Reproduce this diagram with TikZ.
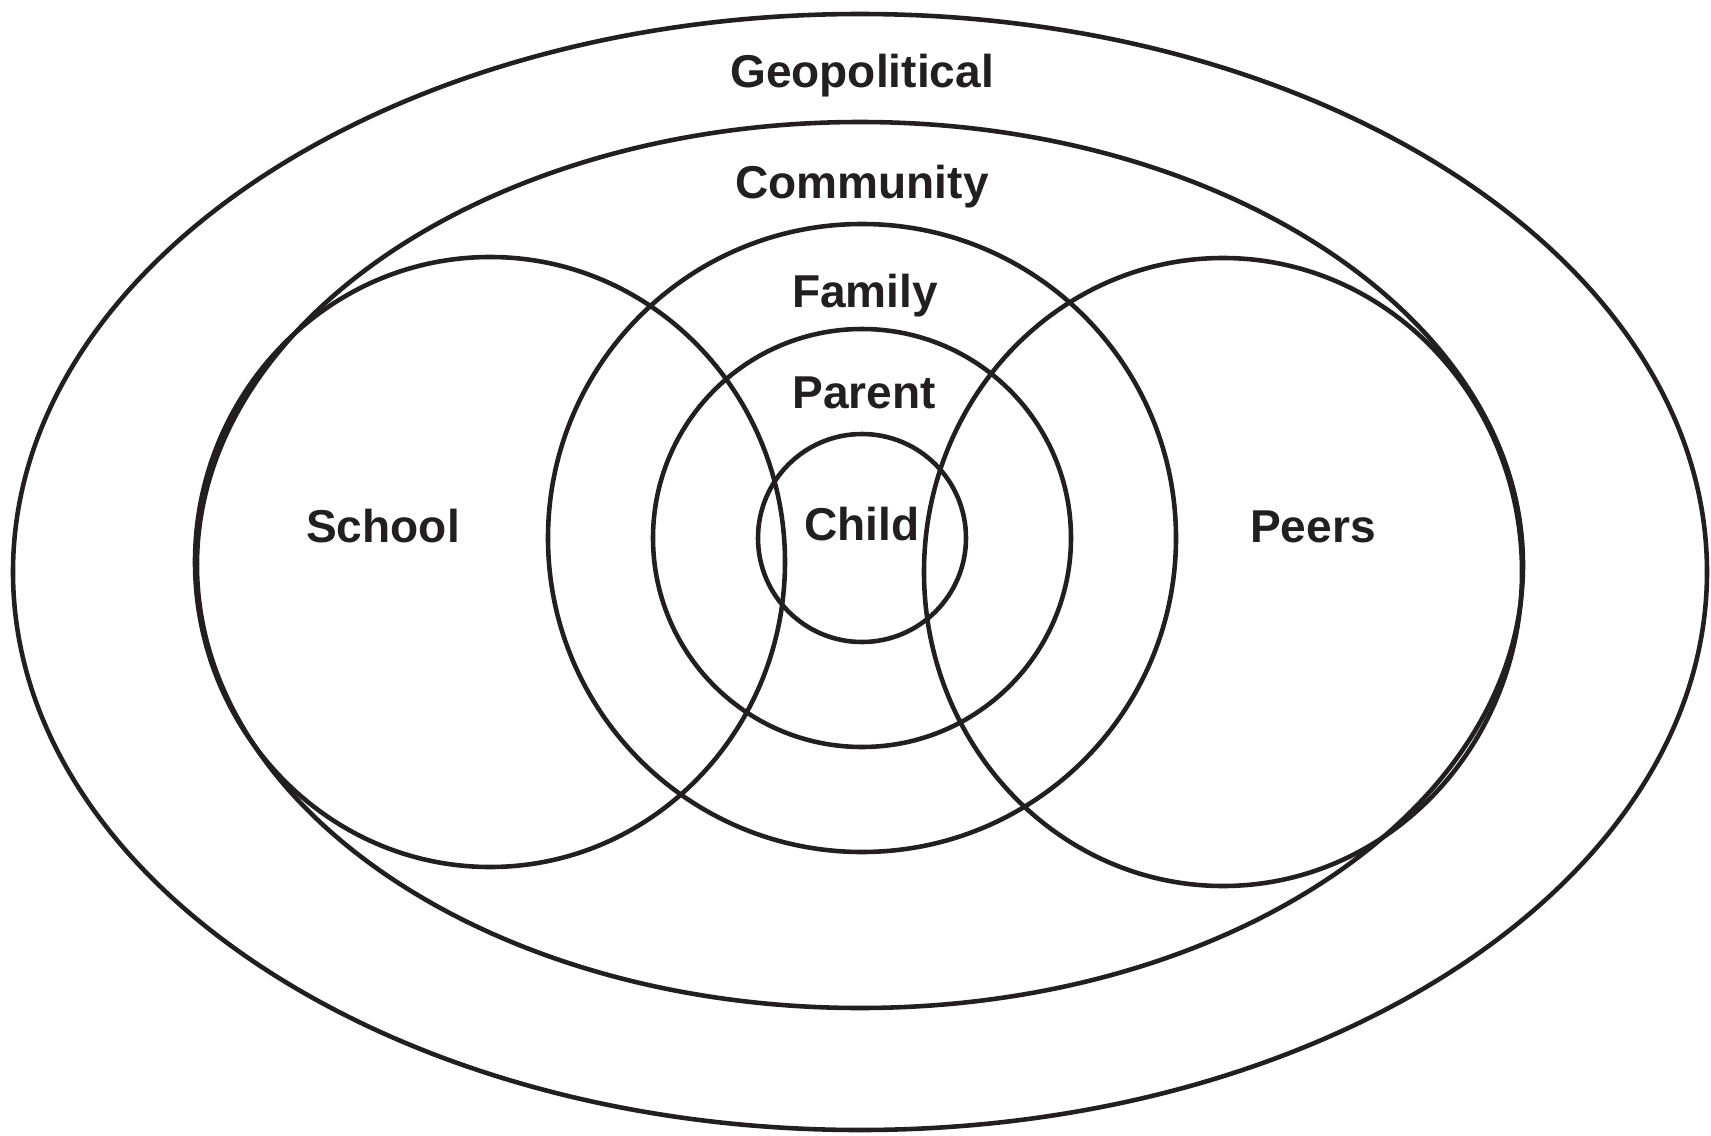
\documentclass[tikz,border=0pt]{standalone}
\usepackage{fontspec}
\setmainfont{Liberation Sans}
\definecolor{ink}{RGB}{35,31,32}
\begin{document}
\begin{tikzpicture}[x=0.01cm,y=-0.01cm,
  ring/.style={draw=ink, line width=1.3pt},
  lab/.style={font=\fontsize{13.1}{15}\selectfont\bfseries, text=ink, anchor=base, inner sep=0pt}]
\useasboundingbox (0,0) rectangle (1711,1136);
% Geopolitical
\draw[ring] (860,572) ellipse [x radius=847, y radius=558];
% Community
\draw[ring] (860,565) ellipse [x radius=663, y radius=443];
% School
\draw[ring] (490,562) ellipse [x radius=295, y radius=305];
% Peers
\draw[ring] (1223,572) ellipse [x radius=299, y radius=314];
% Family, Parent, Child
\draw[ring] (862,538) circle [radius=314];
\draw[ring] (862,538) circle [radius=209];
\draw[ring] (862,538) circle [radius=104];
% Labels
\node[lab] (geo) at (862,87) {Geopolitical};
\node[lab] (com) at (862,198) {Community};
\node[lab] (fam) at (865,307) {Family};
\node[lab] (par) at (864,408) {Parent};
\node[lab] (chi) at (862,540) {Child};
\node[lab] (sch) at (383,542) {School};
\node[lab] (pee) at (1313,542) {Peers};
\end{tikzpicture}
\end{document}
